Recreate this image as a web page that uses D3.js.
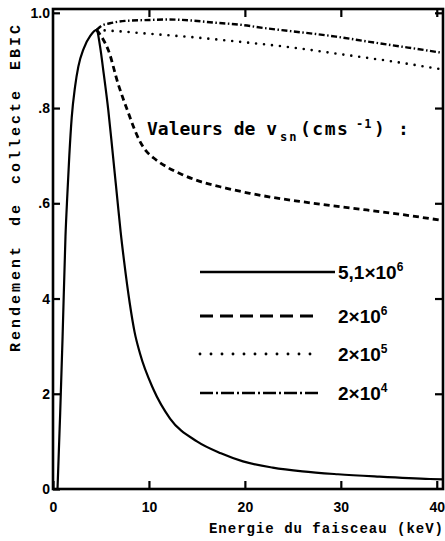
<!DOCTYPE html>
<html><head><meta charset="utf-8">
<script src="https://cdn.jsdelivr.net/npm/d3@7"></script>
<style>body{margin:0;background:#fff}</style>
</head><body>
<svg id="c" width="445" height="541"></svg>
<script>
// ---- data ----
const xTicks = [0, 10, 20, 30, 40];
const xTickLabels = ["0", "10", "20", "30", "40"];
const yTicks = [0, 0.2, 0.4, 0.6, 0.8, 1.0];
const yTickLabels = ["0", "2", "4", ".6", ".8", "1.0"];

const legendLabels = ["5,1×10", "2×10", "2×10", "2×10"];
const legendExps = ["6", "6", "5", "4"];

// vsn = 5,1e6 (solid)
const e1 = [0.47,0.75,1.0,1.3,1.5,1.7,1.95,2.3,2.64,3.2,3.9,4.55,4.9,5.3,5.76,6.2,6.7,7.05,7.4,8.0,8.5,9.06,10.45,12.2,15.0,17.5,19.8,22.9,26,29.7,34,39.3,40.9];
const v1 = [0,0.16,0.32,0.53,0.62,0.70,0.78,0.845,0.887,0.925,0.952,0.964,0.93,0.87,0.796,0.71,0.61,0.54,0.48,0.39,0.33,0.285,0.21,0.148,0.10,0.075,0.058,0.045,0.037,0.031,0.026,0.021,0.02];
// vsn = 2e6 (dashed)
const e2 = [4.55,5.2,5.76,6.8,7.85,8.5,9.06,9.7,10.5,11.8,13.5,15.3,18,20.5,23,25.7,29,32.7,36.5,40.9];
const v2 = [0.964,0.945,0.922,0.85,0.79,0.755,0.73,0.71,0.695,0.677,0.66,0.646,0.632,0.621,0.612,0.604,0.595,0.586,0.576,0.563];
// vsn = 2e5 (dotted)
const e3 = [4.55,7,10,15,20,25,30,35,40.9];
const v3 = [0.964,0.961,0.956,0.948,0.938,0.927,0.913,0.899,0.88];
// vsn = 2e4 (dash-dot)
const e4 = [4.55,5.07,5.94,7.5,10.1,12,14.3,17,19.5,22,25,29.5,33,37,40.9];
const v4 = [0.964,0.973,0.978,0.983,0.985,0.986,0.984,0.979,0.975,0.968,0.961,0.95,0.939,0.927,0.915];

// ---- layout ----
const L = 53, R = 443, T = 9, B = 489;
const svg = d3.select("#c");
const x = d3.scaleLinear().domain([0, 40.65]).range([L, R]);
const y = d3.scaleLinear().domain([0, 1.008]).range([B, T]);

const tickFont = "bold 14px 'Liberation Sans', Arial, sans-serif";

// axes
const gx = svg.append("g").attr("transform", `translate(0,${B})`)
  .call(d3.axisBottom(x).tickValues(xTicks).tickFormat((d,i)=>xTickLabels[i]).tickSizeInner(-8).tickSizeOuter(0).tickPadding(13));
const gy = svg.append("g").attr("transform", `translate(${L},0)`)
  .call(d3.axisLeft(y).tickValues(yTicks).tickFormat((d,i)=>yTickLabels[i]).tickSizeInner(-7).tickSizeOuter(0).tickPadding(3));
const gt = svg.append("g").attr("transform", `translate(0,${T})`)
  .call(d3.axisTop(x).tickValues(xTicks.slice(1)).tickFormat("").tickSizeInner(-8).tickSizeOuter(0));
const gr = svg.append("g").attr("transform", `translate(${R},0)`)
  .call(d3.axisRight(y).tickValues(yTicks.slice(1)).tickFormat("").tickSizeInner(-8).tickSizeOuter(0));
[gx, gy, gt, gr].forEach(g => {
  g.select(".domain").remove();
  g.selectAll(".tick line").attr("stroke", "#000").attr("stroke-width", 2.2);
  g.selectAll(".tick text").style("font", tickFont).attr("fill", "#000");
});

// frame
svg.append("rect").attr("x", L).attr("y", T).attr("width", R - L).attr("height", B - T)
  .attr("fill", "none").attr("stroke", "#000").attr("stroke-width", 2.6);

// clip
svg.append("clipPath").attr("id", "clip").append("rect")
  .attr("x", L).attr("y", T).attr("width", R - L).attr("height", B - T);

const line = d3.line().x(d => x(d[0])).y(d => y(d[1])).curve(d3.curveMonotoneX);
const series = [
  {e: e1, v: v1, dash: null, w: 2.2, cap: "butt", ldash: null},
  {e: e2, v: v2, dash: "6,4", w: 2.8, cap: "butt", ldash: "13,7"},
  {e: e3, v: v3, dash: "0,8", w: 2.6, cap: "round", ldash: "0,11"},
  {e: e4, v: v4, dash: "6,2.5,1.5,2.5", w: 2.4, cap: "butt", ldash: "13,3,2,3"}
];
const gc = svg.append("g").attr("clip-path", "url(#clip)");
series.forEach(s => {
  gc.append("path").datum(s.e.map((d, i) => [d, s.v[i]]))
    .attr("d", line).attr("fill", "none").attr("stroke", "#000")
    .attr("stroke-width", s.w).attr("stroke-linecap", s.cap)
    .attr("stroke-dasharray", s.dash);
});

// legend title
const tt = svg.append("text").attr("x", 147).attr("y", 135)
  .style("font", "bold 18px 'DejaVu Sans Mono', monospace").attr("fill", "#000");
tt.append("tspan").text("Valeurs de v");
tt.append("tspan").attr("x", 280).attr("dy", 6).style("font-size", "12px").style("letter-spacing", "2px").text("sn");
tt.append("tspan").attr("x", 300).attr("dy", -6).style("letter-spacing", "1.5px").text("(cms");
tt.append("tspan").attr("x", 356).attr("dy", -7).style("font-size", "12px").style("letter-spacing", "1px").text("-1");
tt.append("tspan").attr("x", 374).attr("dy", 7).text(")");
tt.append("tspan").attr("x", 398).text(":");

// legend rows
const rowY = [272, 316, 354, 393];
const rowX2 = [335, 320, 320, 320];
series.forEach((s, i) => {
  svg.append("line").attr("x1", 200).attr("x2", rowX2[i]).attr("y1", rowY[i]).attr("y2", rowY[i])
    .attr("stroke", "#000").attr("stroke-width", s.w + 0.3).attr("stroke-linecap", s.cap)
    .attr("stroke-dasharray", s.ldash);
  const t = svg.append("text").attr("x", 338).attr("y", rowY[i] + 7)
    .style("font", "bold 19px 'Liberation Sans', Arial, sans-serif").attr("fill", "#000");
  t.append("tspan").text(legendLabels[i]);
  t.append("tspan").attr("dy", -8).style("font-size", "12px").text(legendExps[i]);
});

// axis titles
svg.append("text").attr("x", 444).attr("y", 533).attr("text-anchor", "end")
  .style("font", "bold 14px 'Liberation Mono', 'Courier New', monospace").style("letter-spacing", "1px")
  .attr("fill", "#000").text("Energie du faisceau (keV)");
svg.append("text").attr("transform", "translate(20,187) rotate(-90)").attr("text-anchor", "middle")
  .style("font", "bold 15px 'Liberation Mono', 'Courier New', monospace").style("letter-spacing", "3px").style("word-spacing", "6px")
  .attr("fill", "#000").text("Rendement de collecte EBIC");
</script>
</body></html>
